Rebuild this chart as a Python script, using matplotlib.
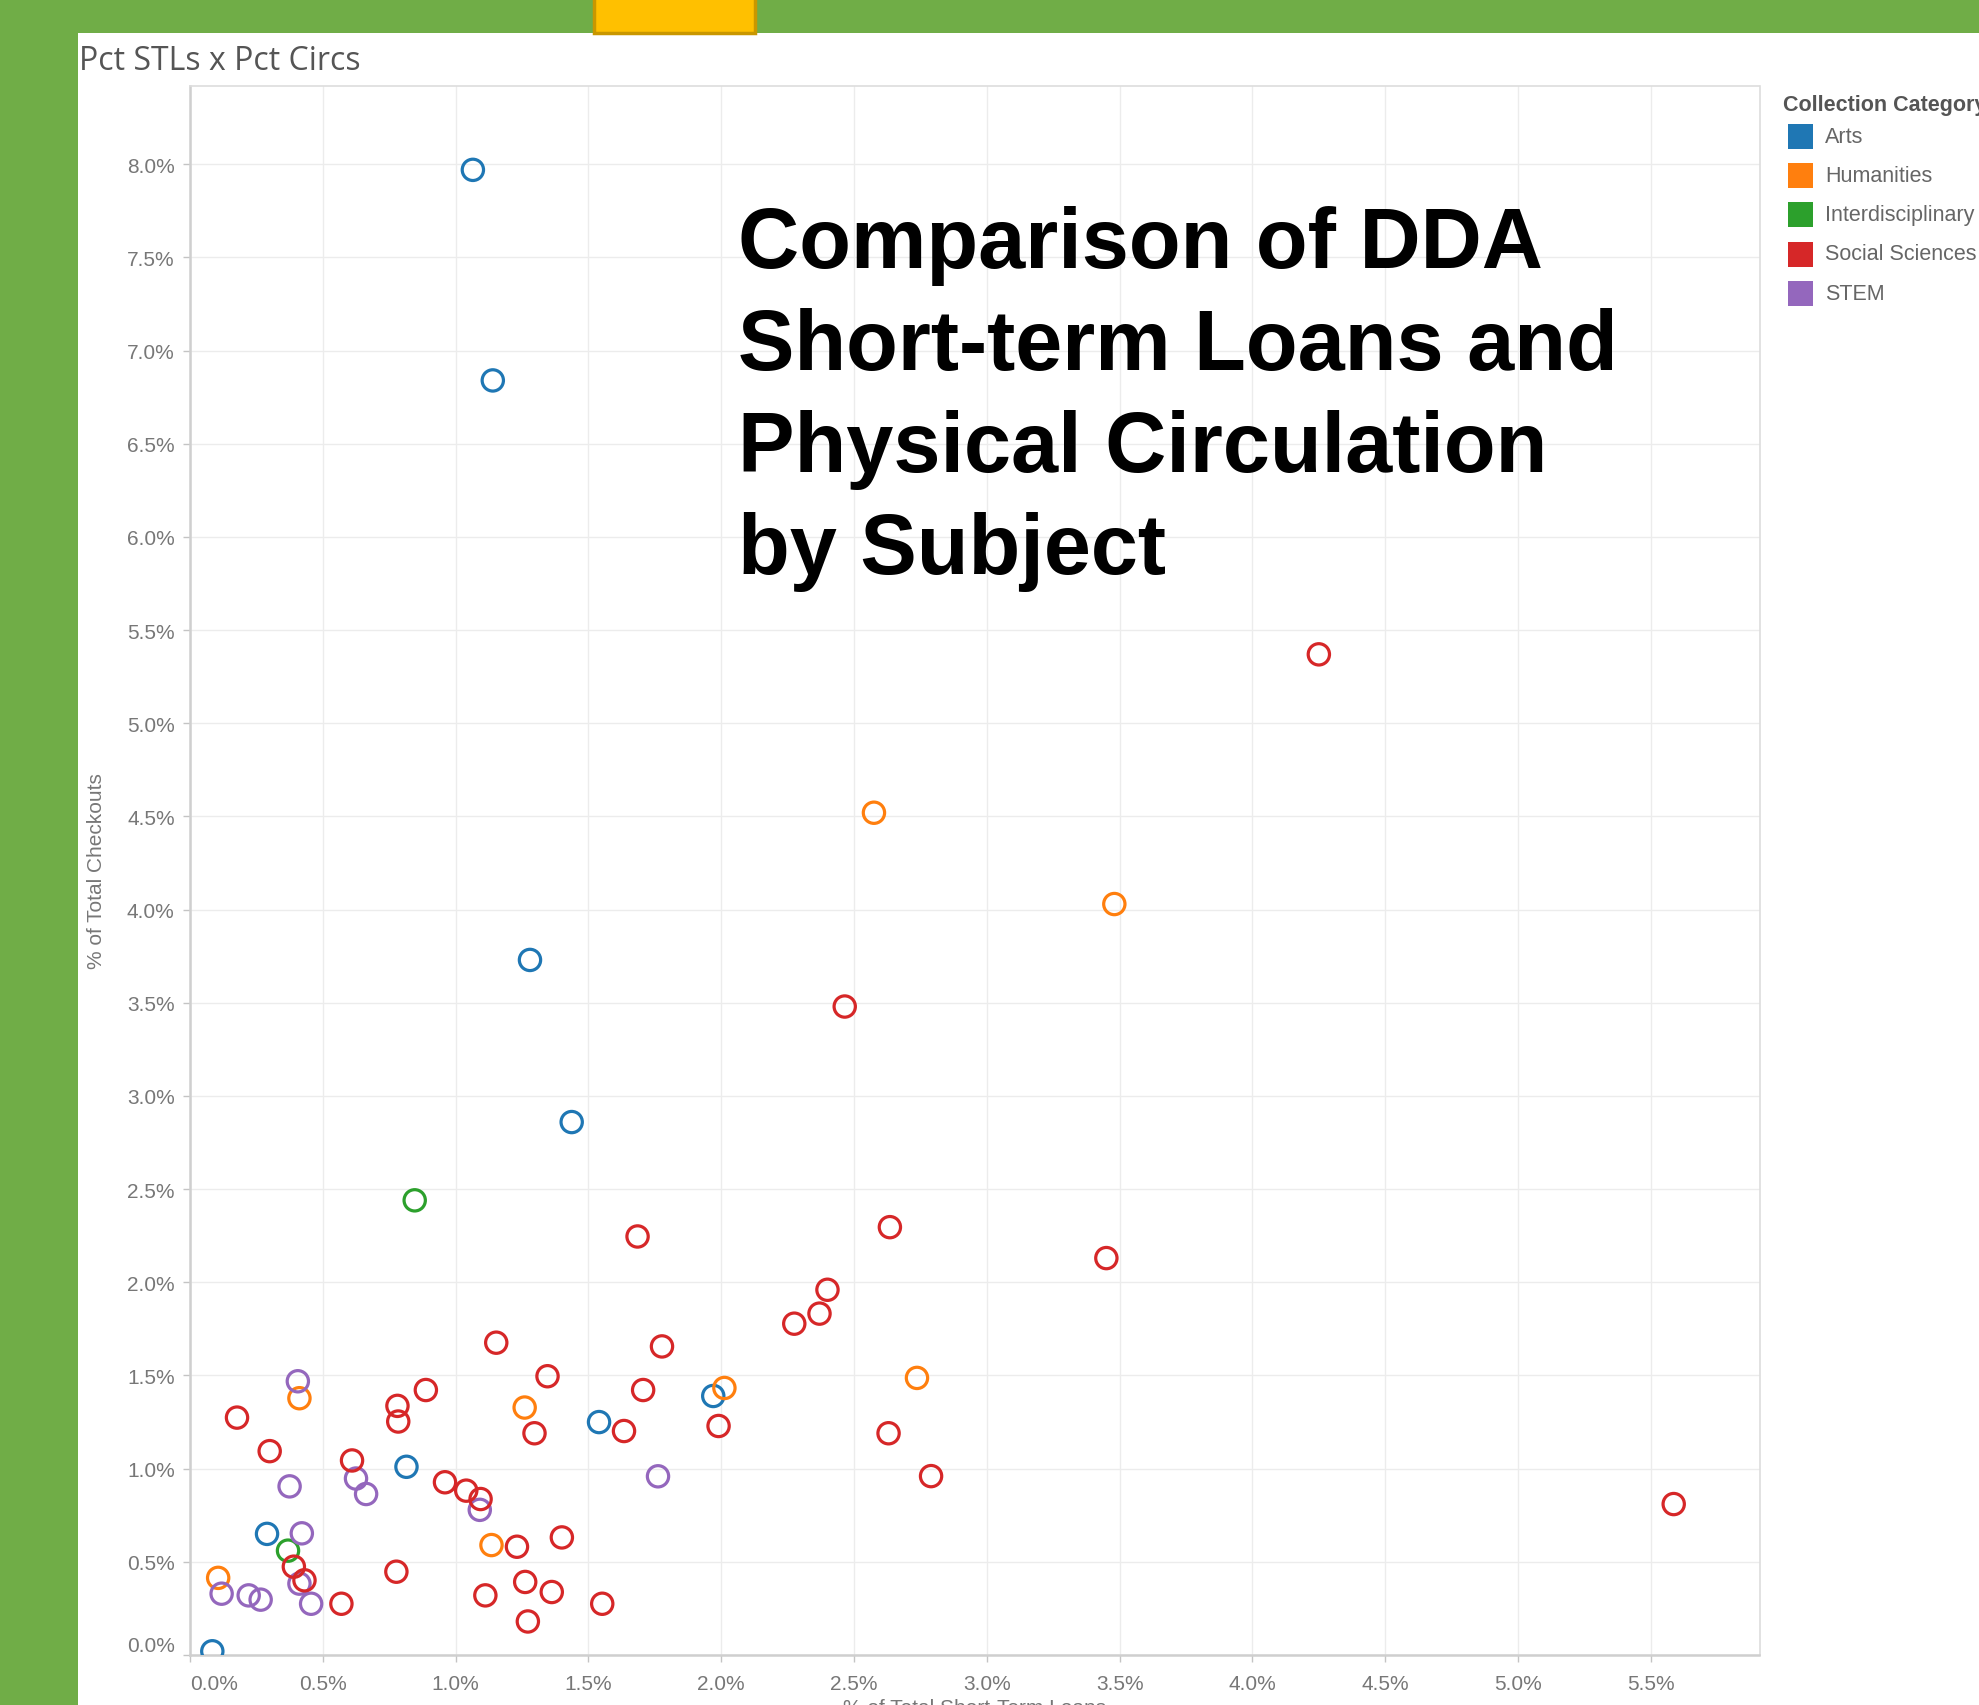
import matplotlib
matplotlib.use("Agg")
import matplotlib.pyplot as plt
from matplotlib.patches import Rectangle
from matplotlib.ticker import FuncFormatter
import numpy as np

# ---------------- data ----------------
categories = ["Arts", "Humanities", "Interdisciplinary", "Social Sciences", "STEM"]
colors = ["#1f77b4", "#ff7f0e", "#2ca02c", "#d62728", "#9467bd"]

arts_x = [1.065, 1.14, 1.28, 1.437, 0.815, 1.54, 1.97, 0.29, 0.084]
arts_y = [7.97, 6.84, 3.73, 2.86, 1.01, 1.25, 1.39, 0.65, 0.02]

hum_x = [2.575, 3.48, 0.412, 1.26, 2.012, 2.737, 1.135, 0.106]
hum_y = [4.52, 4.03, 1.378, 1.328, 1.433, 1.487, 0.59, 0.414]

inter_x = [0.846, 0.369]
inter_y = [2.44, 0.56]

soc_x = [4.25, 2.465, 1.685, 2.635, 3.45, 2.40, 2.37, 2.275, 1.153, 1.777,
         1.346, 0.888, 1.706, 0.781, 0.784, 0.177, 1.297, 1.634, 1.99, 2.63,
         0.30, 0.61, 2.79, 0.96, 1.04, 1.094, 5.586, 1.40, 1.231, 0.777,
         0.391, 0.431, 1.262, 1.112, 1.362, 0.57, 1.552, 1.272]
soc_y = [5.37, 3.48, 2.246, 2.296, 2.13, 1.96, 1.832, 1.778, 1.676, 1.656,
         1.496, 1.422, 1.422, 1.337, 1.253, 1.274, 1.19, 1.202, 1.229, 1.19,
         1.094, 1.044, 0.96, 0.927, 0.882, 0.837, 0.81, 0.631, 0.581, 0.447,
         0.474, 0.401, 0.392, 0.32, 0.338, 0.275, 0.275, 0.18]

stem_x = [0.406, 0.375, 0.625, 0.663, 1.762, 1.091, 0.421, 0.412, 0.119, 0.221, 0.266, 0.456]
stem_y = [1.469, 0.905, 0.947, 0.864, 0.959, 0.779, 0.653, 0.383, 0.329, 0.32, 0.297, 0.275]

x_ticks = [0.0, 0.5, 1.0, 1.5, 2.0, 2.5, 3.0, 3.5, 4.0, 4.5, 5.0, 5.5]
y_ticks = [0.0, 0.5, 1.0, 1.5, 2.0, 2.5, 3.0, 3.5, 4.0, 4.5, 5.0, 5.5, 6.0, 6.5, 7.0, 7.5, 8.0]

# ---------------- figure ----------------
W, H, DPI = 1979, 1706, 100
plt.rcParams["font.family"] = ["Liberation Sans", "DejaVu Sans"]

fig = plt.figure(figsize=(W / DPI, H / DPI), dpi=DPI)
fig.patch.set_facecolor("#70AD47")

def fx(px):
    return px / W

def fy(py):
    return 1 - py / H

# white panel
fig.add_artist(Rectangle((fx(78), 0), 1, fy(34), transform=fig.transFigure,
                         facecolor="white", edgecolor="none", zorder=-10))
# yellow tab at top
fig.add_artist(Rectangle((fx(594), fy(34)), fx(755 - 594), 34 / H + 0.01,
                         transform=fig.transFigure, facecolor="#FFC000",
                         edgecolor="#C99700", lw=2.5, zorder=-5))

ax = fig.add_axes([fx(190), fy(1656), fx(1759.5 - 190), (1656 - 87) / H])
ax.set_facecolor("white")

series = [(arts_x, arts_y), (hum_x, hum_y), (inter_x, inter_y), (stem_x, stem_y), (soc_x, soc_y)]
order = [0, 1, 2, 4, 3]
for (xs, ys), ci in zip(series, order):
    ax.scatter(xs, ys, s=235, facecolors="none", edgecolors=colors[ci],
               linewidths=2.3, zorder=3)

ax.set_xlim(0, 5.909)
ax.set_ylim(0, 8.42)
ax.set_xticks(x_ticks)
ax.set_yticks(y_ticks)
fmt = FuncFormatter(lambda v, p: f"{v:.1f}%")
ax.xaxis.set_major_formatter(fmt)
ax.yaxis.set_major_formatter(fmt)
ax.grid(True, color="#ececec", lw=1.0, zorder=0)
ax.set_axisbelow(True)
for side in ["top", "right"]:
    ax.spines[side].set_color("#dddddd")
    ax.spines[side].set_linewidth(1.2)
for side in ["left", "bottom"]:
    ax.spines[side].set_color("#cfcfcf")
    ax.spines[side].set_linewidth(1.8)
ax.tick_params(axis="both", length=5, width=1, color="#c4c4c4",
               labelcolor="#777777", labelsize=15)
ax.tick_params(axis="y", pad=6)
ax.tick_params(axis="x", pad=9)

fig.canvas.draw()
xl = ax.get_xticklabels()
xl[0].set_horizontalalignment("left")
yl = ax.get_yticklabels()
yl[0].set_verticalalignment("bottom")

# axis labels
fig.text(fx(96), fy(871), "% of Total Checkouts", rotation=90, ha="center",
         va="center", fontsize=15, color="#777777")
fig.text(fx(975), fy(1699), "% of Total Short-Term Loans", ha="center",
         va="top", fontsize=15, color="#777777")

# sheet title
fig.text(fx(79), fy(61), "Pct STLs x Pct Circs", ha="left", va="center",
         fontsize=23, color="#555555", family=["Open Sans", "DejaVu Sans"])

# big overlay title
fig.text(fx(738), fy(399),
         "Comparison of DDA\nShort-term Loans and\nPhysical Circulation\nby Subject",
         ha="left", va="center", fontsize=61, fontweight="bold", color="black",
         linespacing=1.36)

# legend
fig.text(fx(1783), fy(106), "Collection Category", ha="left", va="center",
         fontsize=15.5, fontweight="bold", color="#555555")
leg_y = [137.5, 176.5, 215.5, 255, 294]
for cat, col, yy in zip(categories, colors, leg_y):
    fig.add_artist(Rectangle((fx(1788), fy(yy + 12.5)), fx(25), 25 / H,
                             transform=fig.transFigure, facecolor=col,
                             edgecolor="none"))
    fig.text(fx(1825), fy(yy), cat, ha="left", va="center", fontsize=15.5,
             color="#666666")

fig.savefig("out.png", dpi=DPI, facecolor=fig.get_facecolor())
